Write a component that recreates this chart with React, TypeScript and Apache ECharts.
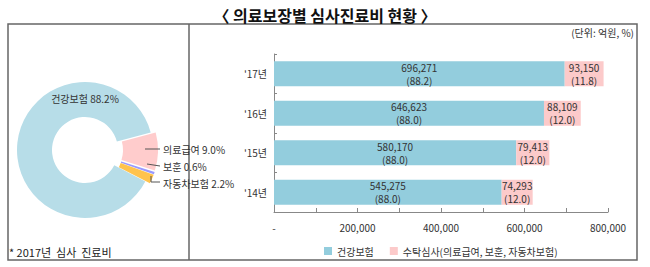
import React, { useEffect, useRef } from "react";
import * as echarts from "echarts";

const years = ["'14년", "'15년", "'16년", "'17년"];
const healthValues = [545275, 580170, 646623, 696271];
const healthPct = [88.0, 88.0, 88.0, 88.2];
const consignValues = [74293, 79413, 88109, 93150];
const consignPct = [12.0, 12.0, 12.0, 11.8];
const xTicks = [0, 200000, 400000, 600000, 800000];

const pieNames = ["의료급여", "보훈", "자동차보험", "건강보험"];
const pieValues = [9.0, 0.6, 2.2, 88.2];
const pieColors = ["#ffcccc", "#9999ff", "#ffc34d", "#b7dde8"];

const FONT = "'Noto Sans CJK KR', 'Noto Sans', sans-serif";

export default function App() {
  const ref = useRef<HTMLDivElement>(null);
  useEffect(() => {
    if (!ref.current) return;
    const chart = echarts.init(ref.current, undefined, { renderer: "svg" });
    const fmt = (v: number) => v.toLocaleString("en-US");
    const pieLabel = (i: number) => `${pieNames[i]} ${pieValues[i].toFixed(1)}%`;
    // label anchor positions and leader lines (layout only)
    const labelPos = [
      { x: 163, y: 149, align: "left" },
      { x: 163, y: 166, align: "left" },
      { x: 163, y: 183, align: "left" },
      { x: 85, y: 98, align: "center" },
    ];
    const leaderLines = [
      [[145, 149], [160, 149]],
      [[147, 164], [160, 166]],
      [[151, 176], [151, 182], [160, 182]],
    ];
    const lineStroke = { stroke: "#555", lineWidth: 1, fill: "none" };
    chart.setOption({
      animation: false,
      textStyle: { fontFamily: FONT },
      title: {
        text: "〈 의료보장별 심사진료비 현황 〉",
        left: "center",
        top: 2,
        textStyle: { fontSize: 16, fontWeight: "bold", color: "#111", fontFamily: FONT },
      },
      graphic: [
        {
          type: "rect",
          shape: { x: 8, y: 24, width: 629, height: 236 },
          style: { fill: "none", stroke: "#666", lineWidth: 1.5 },
          silent: true,
        },
        {
          type: "line",
          shape: { x1: 189, y1: 24, x2: 189, y2: 260 },
          style: { stroke: "#666", lineWidth: 1.5 },
          silent: true,
        },
        {
          type: "text",
          right: 16,
          top: 27,
          style: { text: "(단위: 억원, %)", fontSize: 10, fill: "#333", fontFamily: FONT },
        },
        {
          type: "text",
          left: 9,
          top: 246,
          style: { text: "* 2017년  심사  진료비", fontSize: 11, fill: "#222", fontFamily: FONT },
        },
        ...leaderLines.map((pts) => ({
          type: "polyline",
          shape: { points: pts },
          style: lineStroke,
          silent: true,
          z: 10,
        })),
        ...labelPos.map((p, i) => ({
          type: "text",
          x: p.x,
          y: p.y,
          z: 10,
          style: {
            text: pieLabel(i),
            fontSize: 10,
            fill: "#333",
            fontFamily: FONT,
            align: p.align,
            verticalAlign: "middle",
          },
        })),
      ],
      legend: {
        left: 319,
        top: 241,
        itemWidth: 8,
        itemHeight: 8,
        itemGap: 16,
        icon: "rect",
        textStyle: { fontSize: 10, color: "#333", fontFamily: FONT },
        data: ["건강보험", "수탁심사(의료급여, 보훈, 자동차보험)"],
      },
      grid: { left: 274, right: 42, top: 54, bottom: 55 },
      xAxis: {
        type: "value",
        min: 0,
        max: 800000,
        interval: 100000,
        splitLine: { show: false },
        axisLine: { show: true, lineStyle: { color: "#888" } },
        axisTick: { show: true, inside: true, length: 4, lineStyle: { color: "#888" } },
        axisLabel: {
          fontSize: 10,
          color: "#333",
          margin: 10,
          formatter: (v: number) =>
            v === 0 ? "-" : xTicks.includes(v) ? fmt(v) : "",
        },
      },
      yAxis: {
        type: "category",
        data: years,
        axisLine: { show: true, lineStyle: { color: "#888" } },
        axisTick: { show: true, inside: true, length: 3, lineStyle: { color: "#888" } },
        axisLabel: { fontSize: 10, color: "#333", margin: 7 },
      },
      series: [
        {
          type: "pie",
          center: [85, 150],
          radius: [33, 68],
          startAngle: 15,
          selectedMode: "multiple",
          selectedOffset: 5,
          silent: true,
          label: { show: false },
          labelLine: { show: false },
          data: pieNames.map((n, i) => ({
            name: n,
            value: pieValues[i],
            selected: i < 3,
            itemStyle: { color: pieColors[i] },
          })),
        },
        {
          type: "bar",
          name: "건강보험",
          stack: "total",
          barWidth: 25,
          data: healthValues,
          itemStyle: { color: "#93cddd" },
          label: {
            show: true,
            position: "inside",
            fontSize: 10,
            lineHeight: 13,
            color: "#333",
            formatter: (p: any) => `${fmt(p.value)}\n(${healthPct[p.dataIndex].toFixed(1)})`,
          },
        },
        {
          type: "bar",
          name: "수탁심사(의료급여, 보훈, 자동차보험)",
          stack: "total",
          barWidth: 25,
          data: consignValues,
          itemStyle: { color: "#fccaca" },
          label: {
            show: true,
            position: "inside",
            fontSize: 10,
            lineHeight: 13,
            color: "#333",
            formatter: (p: any) => `${fmt(p.value)}\n(${consignPct[p.dataIndex].toFixed(1)})`,
          },
        },
      ],
    });
    return () => chart.dispose();
  }, []);
  return (
    <div
      ref={ref}
      style={{ position: "fixed", left: 0, top: 0, width: 650, height: 267, background: "#fff" }}
    />
  );
}
